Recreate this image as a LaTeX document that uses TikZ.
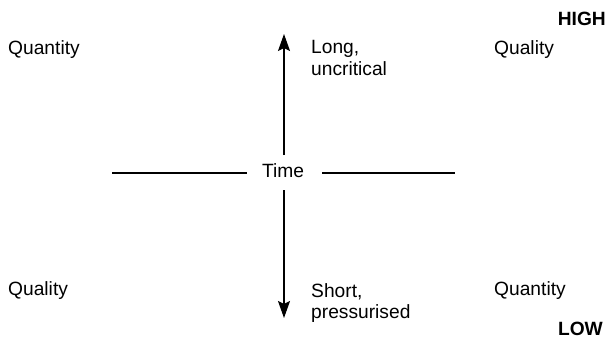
\documentclass[tikz,border=0pt]{standalone}
\usepackage{fontspec}
\setmainfont{Liberation Sans}
\usetikzlibrary{arrows.meta}
\begin{document}
\begin{tikzpicture}[x=1pt,y=-1pt,
  lbl/.style={font=\fontsize{19.2}{22}\selectfont, inner sep=0pt, anchor=base west},
  hl/.style={font=\fontsize{19.2}{22}\selectfont\bfseries, inner sep=0pt, anchor=base east},
  axis/.style={line width=1.2pt},
  arr/.style={axis, -{Stealth[length=17pt,width=12pt,inset=3pt]}}]
\useasboundingbox (0,0) rectangle (608,338);
\node[font=\fontsize{19.2}{22}\selectfont, inner sep=0pt] (time) at (283,171) {Time};
\coordinate (hl1) at (112,173);
\coordinate (hl2) at (247,173);
\coordinate (hr1) at (322,173);
\coordinate (hr2) at (455,173);
\coordinate (vt0) at (284,155);
\coordinate (vt1) at (284,34);
\coordinate (vb0) at (284,190);
\coordinate (vb1) at (284,318);
\draw[axis] (hl1) -- (hl2);
\draw[axis] (hr1) -- (hr2);
\draw[arr] (vt0) -- (vt1);
\draw[arr] (vb0) -- (vb1);
\node[hl] (high) at (606,25) {HIGH};
\node[hl] (low) at (603,335) {LOW};
\node[lbl] (q1) at (8,54) {Quantity};
\node[lbl] (long) at (311,53) {Long,};
\node[lbl] (uncrit) at (311,75) {uncritical};
\node[lbl] (q2) at (494,54) {Quality};
\node[lbl] (q3) at (8,295) {Quality};
\node[lbl] (short) at (311,297) {Short,};
\node[lbl] (press) at (311,318) {pressurised};
\node[lbl] (q4) at (494,295) {Quantity};
\end{tikzpicture}
\end{document}
